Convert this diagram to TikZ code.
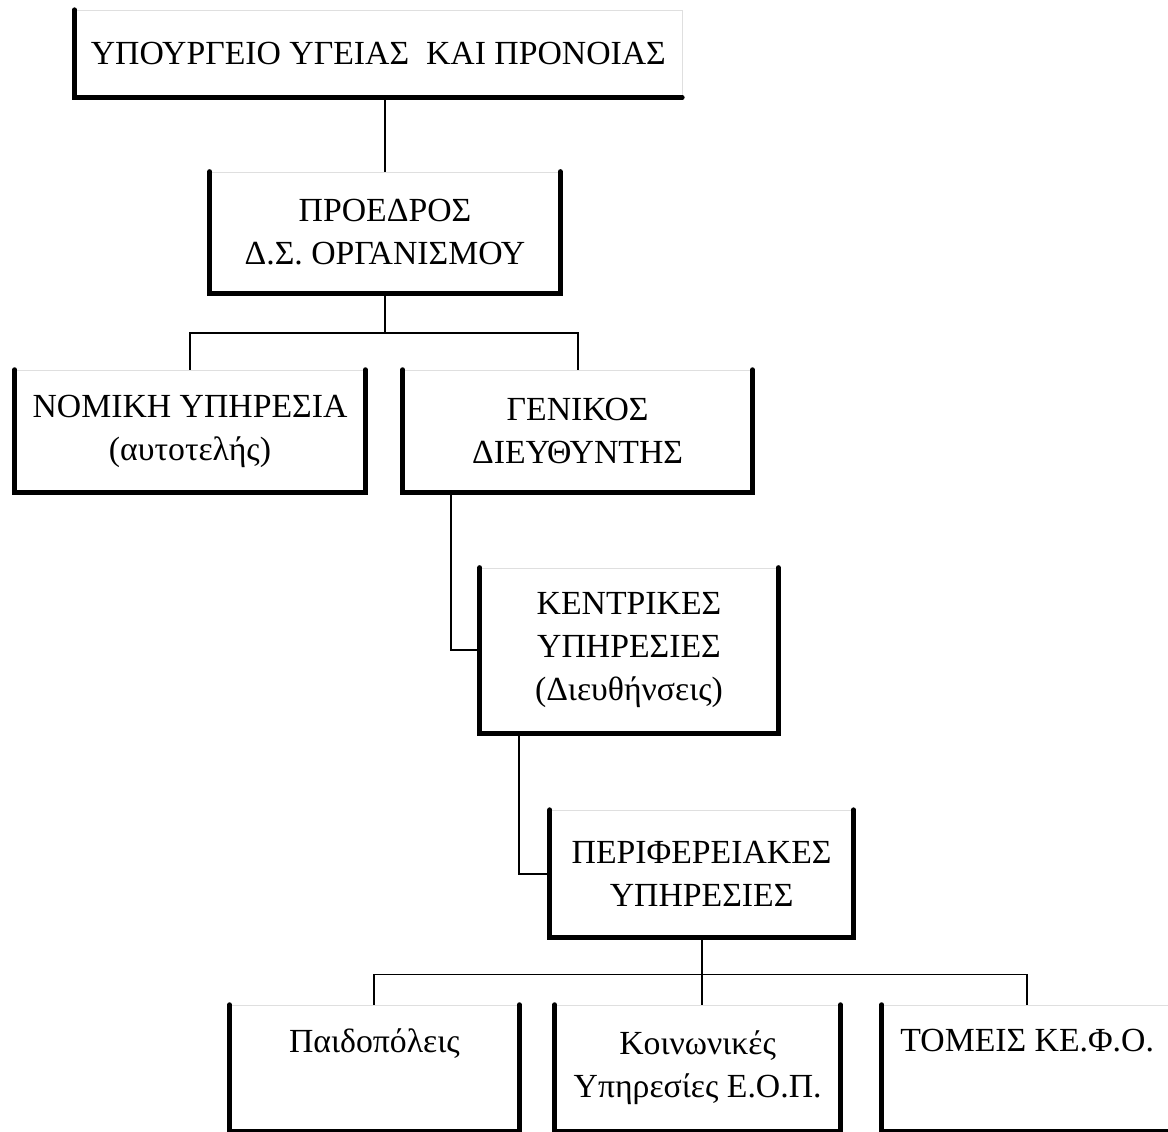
\documentclass[tikz,border=0pt]{standalone}
\usepackage{fontspec}
\setmainfont{Liberation Serif}
\usepackage{tikz}
\usetikzlibrary{positioning}

\begin{document}
\begin{tikzpicture}[
  unit/.style={draw=gray!25, line width=0.5pt, rectangle, align=center, inner sep=0pt,
    font=\fontsize{24}{30.5}\selectfont},
  frame/.style={line width=3.4pt, line cap=round},
  link/.style={line width=1.3pt}
]
\useasboundingbox (0,0) rectangle (29.2,-28.3);

% Ministry
\node[unit, minimum width=15.175cm, minimum height=2.175cm] (ministry) at (9.46,-1.34)
  {ΥΠΟΥΡΓΕΙΟ ΥΓΕΙΑΣ~~ΚΑΙ ΠΡΟΝΟΙΑΣ};

% Board president
\node[unit, minimum width=8.75cm, minimum height=3.025cm] (president) at (9.625,-5.81)
  {ΠΡΟΕΔΡΟΣ\\Δ.Σ. ΟΡΓΑΝΙΣΜΟΥ};

% Second level
\node[unit, minimum width=8.75cm, minimum height=3.05cm] (legal) at (4.75,-10.775)
  {ΝΟΜΙΚΗ ΥΠΗΡΕΣΙΑ\\(αυτοτελής)};
\node[unit, minimum width=8.725cm, minimum height=3.05cm] (director) at (14.44,-10.775)
  {ΓΕΝΙΚΟΣ\\ΔΙΕΥΘΥΝΤΗΣ};

% Central and regional services
\node[unit, minimum width=7.45cm, minimum height=4.125cm] (central) at (15.725,-16.26)
  {ΚΕΝΤΡΙΚΕΣ\\ΥΠΗΡΕΣΙΕΣ\\(Διευθήνσεις)};
\node[unit, minimum width=7.575cm, minimum height=3.175cm] (regional) at (17.54,-21.84)
  {ΠΕΡΙΦΕΡΕΙΑΚΕΣ\\ΥΠΗΡΕΣΙΕΣ};

% Bottom level
\node[unit, minimum width=7.225cm, minimum height=3.15cm] (childtowns) at (9.36,-26.7)
  {Παιδοπόλεις\\\strut};
\node[unit, minimum width=7.125cm, minimum height=3.15cm] (social) at (17.44,-26.7)
  {Κοινωνικές\\Υπηρεσίες Ε.Ο.Π.};
\node[unit, minimum width=7.25cm, minimum height=3.15cm] (sectors) at (25.68,-26.7)
  {ΤΟΜΕΙΣ ΚΕ.Φ.Ο.\\\strut};

% Heavy frames (left, bottom, right)
\draw[frame] (ministry.north west) |- (ministry.south east);
\draw[frame] (president.north west) |- (president.south east) -- (president.north east);
\draw[frame] (legal.north west) |- (legal.south east) -- (legal.north east);
\draw[frame] (director.north west) |- (director.south east) -- (director.north east);
\draw[frame] (central.north west) |- (central.south east) -- (central.north east);
\draw[frame] (regional.north west) |- (regional.south east) -- (regional.north east);
\draw[frame] (childtowns.north west) |- (childtowns.south east) -- (childtowns.north east);
\draw[frame] (social.north west) |- (social.south east) -- (social.north east);
\draw[frame] (sectors.north west) |- (sectors.south east) -- (sectors.north east);

% Connectors
\draw[link] (president.north) -- (president.north |- ministry.south);
\draw[link] (president.south) -- ++(0,-1) coordinate (split1);
\draw[link] (legal.north) |- (split1) -| (director.north);
\draw[link] ([xshift=1.2cm]director.south west) |- (central.west);
\draw[link] ([xshift=0.975cm]central.south west) |- (regional.west);
\draw[link] (regional.south) -- ++(0,-0.925) coordinate (split2);
\draw[link] (childtowns.north) |- (split2) -| (sectors.north);
\draw[link] (split2) -- (split2 |- social.north);

\end{tikzpicture}
\end{document}
